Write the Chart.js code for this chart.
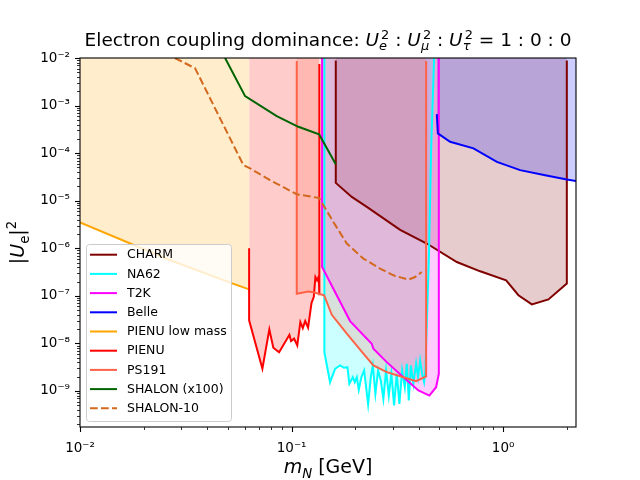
<!DOCTYPE html>
<html>
<head>
<meta charset="utf-8">
<script src="https://cdn.jsdelivr.net/npm/chart.js@4.4.1/dist/chart.umd.min.js"></script>
<style>
  html, body { margin: 0; padding: 0; background: #fff; }
</style>
</head>
<body>
<canvas id="hnlChart" width="640" height="480"></canvas>
<script>
// Axis ranges
const xMin = 0.01, xMax = 2.21;
const yMin = 1.75e-10, yMax = 1e-2;

const xTickValues = [0.01, 0.1, 1];
const xTickLabels = ['10⁻²', '10⁻¹', '10⁰'];
const yTickValues = [1e-9, 1e-8, 1e-7, 1e-6, 1e-5, 1e-4, 1e-3, 1e-2];
const yTickLabels = ['10⁻⁹', '10⁻⁸', '10⁻⁷', '10⁻⁶', '10⁻⁵', '10⁻⁴', '10⁻³', '10⁻²'];

// Experiments (legend order)
const labels = ['CHARM', 'NA62', 'T2K', 'Belle', 'PIENU low mass', 'PIENU', 'PS191', 'SHALON (x100)', 'SHALON-10'];
const colors = ['#800000', '#00ffff', '#ff00ff', '#0000ff', '#ffa500', '#ff0000', '#ff6347', '#006400', '#d2691e'];

// m_N [GeV] and |U_e|^2
const charmMass = [0.1618, 0.1618, 0.1926, 0.2268, 0.326, 0.4356, 0.604, 0.779, 1.033, 1.181, 1.367, 1.637, 2.0, 2.0];
const charmU = [8.9e-3, 2.37e-5, 1.2e-5, 7.4e-6, 2.45e-6, 1.26e-6, 5.15e-7, 3.28e-7, 2.12e-7, 1.03e-7, 6.6e-8, 8.4e-8, 1.81e-7, 8.9e-3];

const na62Mass = [0.1429, 0.1429, 0.152, 0.1606, 0.1696, 0.177, 0.1836, 0.1876, 0.1947, 0.1990, 0.2034, 0.2078, 0.2138, 0.2203,
  0.2300, 0.2369, 0.2421, 0.2490, 0.2564, 0.2640, 0.2716, 0.2797, 0.2881, 0.2963, 0.3051, 0.3142, 0.3233, 0.3331, 0.3430,
  0.3505, 0.3582, 0.3661, 0.3766, 0.3879, 0.3963, 0.4051, 0.4140, 0.4231, 0.4291, 0.4467, 0.4566, 0.4718];
const na62U = [1e-2, 6.56e-9, 1.53e-9, 2.93e-9, 3.44e-9, 3.08e-9, 3.17e-9, 1.42e-9, 1.95e-9, 1.53e-9, 1.95e-9, 1.06e-9, 1.95e-9, 2.70e-9,
  5.2e-10, 1.95e-9, 3.44e-9, 8.7e-10, 2.70e-9, 1.66e-9, 6.85e-10, 2.70e-9, 8.0e-10, 2.30e-9, 4.95e-10, 2.30e-9, 5.38e-10, 2.70e-9, 1.2e-9,
  3.74e-9, 6.3e-10, 3.44e-9, 1.42e-9, 3.74e-9, 1.95e-9, 4.39e-9, 2.30e-9, 1.53e-9, 2.70e-9, 9.1e-7, 1.16e-4, 1e-2];

const t2kMass = [0.1394, 0.1394, 0.189, 0.2393, 0.2436, 0.2818, 0.3378, 0.3977, 0.4483, 0.482, 0.4966, 0.4966];
const t2kU = [1e-2, 4.04e-7, 2.95e-8, 9.86e-9, 7.7e-9, 4.04e-9, 1.95e-9, 1.03e-9, 8.0e-10, 1.2e-9, 2.3e-9, 1e-2];

const belleMass = [0.4858, 0.4913, 0.5615, 0.724, 0.934, 1.203, 1.58, 2.0, 2.21];
const belleU = [6.6e-4, 2.6e-4, 1.73e-4, 1.26e-4, 6.56e-5, 4.39e-5, 3.44e-5, 2.79e-5, 2.61e-5];

const pienuLowMass = [0.01, 0.0267, 0.0524, 0.063];
const pienuLowU = [3.5e-6, 5.6e-7, 1.83e-7, 1.37e-7];

const pienuMass = [0.063, 0.063, 0.0728, 0.0785, 0.0820, 0.0873, 0.0977, 0.0994, 0.1028, 0.1064, 0.110, 0.113, 0.116, 0.1197,
  0.1242, 0.1273, 0.1296, 0.132, 0.1345, 0.1353, 0.1353];
const pienuU = [1.0e-6, 3.05e-8, 2.93e-9, 1.97e-8, 8.1e-9, 6.5e-9, 1.52e-8, 1.12e-8, 1.26e-8, 9.1e-9, 2.8e-8, 2.1e-8, 2.95e-8, 2.14e-8,
  7.05e-8, 9.4e-8, 2.49e-7, 2.12e-7, 2.58e-7, 1.03e-7, 7.5e-3];

const ps191Mass = [0.1058, 0.1058, 0.120, 0.1268, 0.1425, 0.1549, 0.1824, 0.2185, 0.2436, 0.2818, 0.3378, 0.388, 0.4325, 0.4325];
const ps191U = [8.6e-3, 1.11e-7, 1.24e-7, 1.19e-7, 1.03e-7, 4.0e-8, 1.6e-8, 6.1e-9, 3.44e-9, 2.49e-9, 1.95e-9, 1.61e-9, 2.02e-9, 8.6e-3];

const shalonMass = [0.0485, 0.0603, 0.0851, 0.1077, 0.1349, 0.1618];
const shalonU = [1e-2, 1.58e-3, 6.0e-4, 3.58e-4, 2.48e-4, 5.87e-5];

const shalon10Mass = [0.0281, 0.035, 0.0592, 0.0637, 0.0791, 0.1058, 0.1349, 0.1576, 0.1824, 0.2185, 0.262, 0.303, 0.3566, 0.3837, 0.4126];
const shalon10U = [1e-2, 6.07e-3, 5.6e-5, 4.76e-5, 2.7e-5, 1.37e-5, 1.14e-5, 3.58e-6, 1.26e-6, 6.07e-7, 3.74e-7, 2.7e-7, 2.19e-7, 2.49e-7, 3.17e-7];

const seriesMass = [charmMass, na62Mass, t2kMass, belleMass, pienuLowMass, pienuMass, ps191Mass, shalonMass, shalon10Mass];
const seriesU = [charmU, na62U, t2kU, belleU, pienuLowU, pienuU, ps191U, shalonU, shalon10U];
const filled = [true, true, true, true, true, true, true, false, false];

const FONT = 'DejaVu Sans';
Chart.defaults.font.family = FONT;

function hexToRgba(hex, a) {
  const n = parseInt(hex.slice(1), 16);
  return `rgba(${(n >> 16) & 255}, ${(n >> 8) & 255}, ${n & 255}, ${a})`;
}

function isPow10(v) {
  const l = Math.log10(v);
  return Math.abs(l - Math.round(l)) < 1e-6;
}

function logTicks(min, max) {
  const ticks = [];
  for (let e = Math.floor(Math.log10(min)); e <= Math.ceil(Math.log10(max)); e++) {
    for (let k = 1; k <= 9; k++) {
      const v = k * Math.pow(10, e);
      if (v >= min * (1 - 1e-9) && v <= max * (1 + 1e-9)) ticks.push({ value: v, major: k === 1 });
    }
  }
  return ticks;
}

function tickLabel(values, names) {
  return function (v) {
    const i = values.findIndex(t => Math.abs(Math.log10(t) - Math.log10(v)) < 1e-6);
    return i >= 0 ? names[i] : '';
  };
}

const datasets = labels.map((name, i) => ({
  label: name,
  data: seriesMass[i].map((m, j) => ({ x: m, y: seriesU[i][j] })),
  borderColor: colors[i],
  backgroundColor: hexToRgba(colors[i], 0.2),
  borderWidth: 2,
  borderDash: name === 'SHALON-10' ? [7.7, 3.3] : [],
  fill: filled[i] ? 'end' : false,
  pointRadius: 0,
  tension: 0,
  order: labels.length - i
}));

// draw rich text (italic, sub/superscripts), centered on cx
function drawRich(ctx, parts, cx, cy, size) {
  const f = (it, s) => (it ? 'italic ' : '') + s + 'px "' + FONT + '"';
  const small = size * 0.7;
  let total = 0;
  const info = parts.map(p => {
    ctx.font = f(p.it, size);
    const mw = ctx.measureText(p.t).width;
    let ew = 0;
    if (p.sub) { ctx.font = f(p.subIt, small); ew = Math.max(ew, ctx.measureText(p.sub).width); }
    if (p.sup) { ctx.font = f(false, small); ew = Math.max(ew, ctx.measureText(p.sup).width + (p.supDx || 0)); }
    total += mw + ew;
    return { mw, ew };
  });
  let x = cx - total / 2;
  ctx.textAlign = 'left';
  ctx.textBaseline = 'alphabetic';
  ctx.fillStyle = '#000';
  parts.forEach((p, i) => {
    ctx.font = f(p.it, size);
    ctx.fillText(p.t, x, cy);
    x += info[i].mw;
    if (p.sub) { ctx.font = f(p.subIt, small); ctx.fillText(p.sub, x, cy + size * 0.24); }
    if (p.sup) { ctx.font = f(false, small); ctx.fillText(p.sup, x + (p.supDx || 0), cy - size * 0.4); }
    x += info[i].ew;
  });
}

const textPlugin = {
  id: 'textPlugin',
  afterDraw(chart) {
    const ctx = chart.ctx;
    const a = chart.chartArea;
    const cx = (a.left + a.right) / 2;
    ctx.save();
    drawRich(ctx, [
      { t: 'Electron coupling dominance: ' },
      { t: 'U', it: true, sub: 'e', subIt: true, sup: '2', supDx: 2 },
      { t: ' : ' },
      { t: 'U', it: true, sub: 'μ', subIt: true, sup: '2', supDx: 2 },
      { t: ' : ' },
      { t: 'U', it: true, sub: 'τ', subIt: true, sup: '2', supDx: 2 },
      { t: ' = 1 : 0 : 0' }
    ], cx, 46, 18.5);
    drawRich(ctx, [
      { t: 'm', it: true, sub: 'N', subIt: true },
      { t: ' [GeV]' }
    ], cx, 473, 19);
    ctx.translate(24, (a.top + a.bottom) / 2);
    ctx.rotate(-Math.PI / 2);
    drawRich(ctx, [
      { t: '|' },
      { t: 'U', it: true, sub: 'e' },
      { t: '|', sup: '2' }
    ], 0, 0, 19);
    ctx.restore();
  }
};

const framePlugin = {
  id: 'framePlugin',
  afterDraw(chart) {
    const ctx = chart.ctx;
    const a = chart.chartArea;
    ctx.save();
    ctx.strokeStyle = '#000';
    // ticks, outward
    const xs = chart.scales.x, ys = chart.scales.y;
    xs.ticks.forEach(t => {
      const p = Math.round(xs.getPixelForValue(t.value)) + 0.5;
      const len = isPow10(t.value) ? 5 : 3;
      ctx.lineWidth = isPow10(t.value) ? 1.1 : 0.8;
      ctx.beginPath(); ctx.moveTo(p, a.bottom); ctx.lineTo(p, a.bottom + len); ctx.stroke();
    });
    ys.ticks.forEach(t => {
      const p = Math.round(ys.getPixelForValue(t.value)) + 0.5;
      const len = isPow10(t.value) ? 5 : 3;
      ctx.lineWidth = isPow10(t.value) ? 1.1 : 0.8;
      ctx.beginPath(); ctx.moveTo(a.left, p); ctx.lineTo(a.left - len, p); ctx.stroke();
    });
    ctx.lineWidth = 1.1;
    ctx.strokeRect(a.left, a.top, a.right - a.left, a.bottom - a.top);
    ctx.restore();
  }
};

const legendPlugin = {
  id: 'legendBox',
  afterDraw(chart) {
    const ctx = chart.ctx;
    const x0 = 86.5, y0 = 244.5, w = 145, h = 177, r = 3;
    ctx.save();
    ctx.beginPath();
    ctx.moveTo(x0 + r, y0);
    ctx.arcTo(x0 + w, y0, x0 + w, y0 + h, r);
    ctx.arcTo(x0 + w, y0 + h, x0, y0 + h, r);
    ctx.arcTo(x0, y0 + h, x0, y0, r);
    ctx.arcTo(x0, y0, x0 + w, y0, r);
    ctx.closePath();
    ctx.fillStyle = 'rgba(255,255,255,0.8)';
    ctx.fill();
    ctx.strokeStyle = '#cccccc';
    ctx.lineWidth = 1;
    ctx.stroke();
    ctx.font = '12.5px "' + FONT + '"';
    ctx.textBaseline = 'middle';
    ctx.textAlign = 'left';
    chart.data.datasets.forEach((ds, i) => {
      const y = 254.7 + i * 19.2;
      ctx.strokeStyle = ds.borderColor;
      ctx.lineWidth = 2;
      ctx.setLineDash(ds.borderDash || []);
      ctx.beginPath(); ctx.moveTo(90, y); ctx.lineTo(117, y); ctx.stroke();
      ctx.setLineDash([]);
      ctx.fillStyle = '#000';
      ctx.fillText(ds.label, 127, y + 0.5);
    });
    ctx.restore();
  }
};

const axisCommon = {
  type: 'logarithmic',
  grid: { display: true, drawOnChartArea: false, tickLength: 5, tickColor: 'rgba(0,0,0,0)' },
  border: { display: false }
};

new Chart(document.getElementById('hnlChart').getContext('2d'), {
  type: 'line',
  data: { datasets },
  options: {
    responsive: false,
    animation: false,
    layout: { padding: { top: 58, right: 64, left: 0, bottom: 0 } },
    plugins: {
      legend: { display: false },
      title: { display: false },
      tooltip: { enabled: false },
      filler: { drawTime: 'beforeDatasetsDraw' }
    },
    scales: {
      x: {
        ...axisCommon,
        min: xMin, max: xMax,
        afterFit: s => { s.height = 53; },
        afterBuildTicks: s => { s.ticks = logTicks(xMin, xMax); },
        ticks: { autoSkip: false, maxRotation: 0, padding: 8, color: '#000', font: { size: 13.5 },
          callback: tickLabel(xTickValues, xTickLabels) }
      },
      y: {
        ...axisCommon,
        min: yMin, max: yMax,
        afterFit: s => { s.width = 80; },
        afterBuildTicks: s => { s.ticks = logTicks(yMin, yMax); },
        ticks: { autoSkip: false, padding: 5, color: '#000', font: { size: 13.5 },
          callback: tickLabel(yTickValues, yTickLabels) }
      }
    }
  },
  plugins: [framePlugin, legendPlugin, textPlugin]
});
</script>
</body>
</html>
